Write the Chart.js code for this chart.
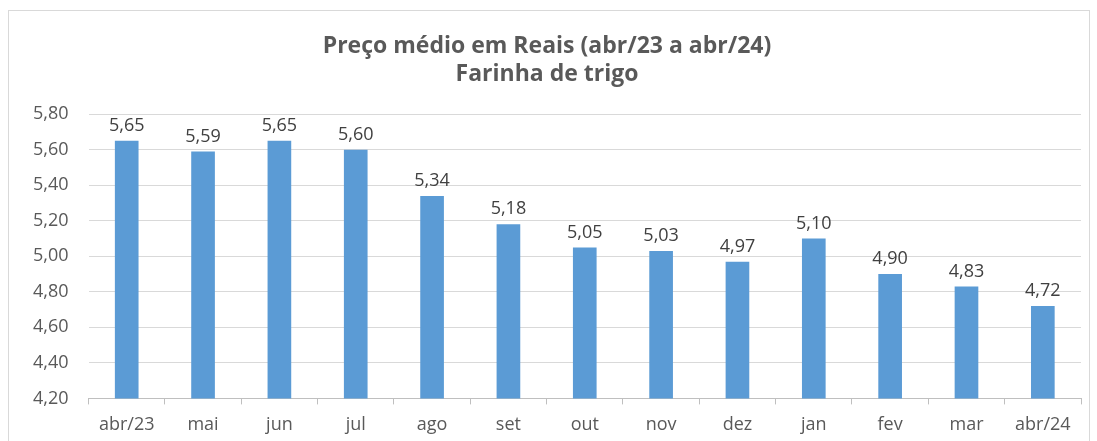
<!DOCTYPE html>
<html>
<head>
<meta charset="utf-8">
<script src="https://cdn.jsdelivr.net/npm/chart.js@4.4.1/dist/chart.umd.min.js"></script>
<style>
  body { margin: 0; background: #fff; }
  #box {
    position: absolute; left: 8px; top: 10px;
    width: 1082px; height: 440px;
    border: 1px solid #d9d9d9; box-sizing: border-box;
  }
  #chart { display: block; }
</style>
</head>
<body>
<div id="box"><canvas id="chart" width="1080" height="438"></canvas></div>
<script>
const categories = ['abr/23', 'mai', 'jun', 'jul', 'ago', 'set', 'out', 'nov', 'dez', 'jan', 'fev', 'mar', 'abr/24'];
const prices = [5.65, 5.59, 5.65, 5.60, 5.34, 5.18, 5.05, 5.03, 4.97, 5.10, 4.90, 4.83, 4.72];
const titleLines = ['Preço médio em Reais (abr/23 a abr/24)', 'Farinha de trigo'];
const yMin = 4.20, yMax = 5.80, yStep = 0.20;

const FONT = "'Open Sans', 'DejaVu Sans', sans-serif";

function fmt(v) {
  return v.toFixed(2).replace('.', ',');
}

// value labels over the bars
const barLabels = {
  id: 'barLabels',
  afterDatasetsDraw(chart) {
    const ctx = chart.ctx;
    const meta = chart.getDatasetMeta(0);
    ctx.save();
    ctx.font = '18px ' + FONT;
    ctx.fillStyle = '#404040';
    ctx.textAlign = 'center';
    ctx.textBaseline = 'bottom';
    meta.data.forEach((bar, i) => {
      ctx.fillText(fmt(prices[i]), bar.x, bar.y - 6);
    });
    ctx.restore();
  }
};

new Chart(document.getElementById('chart'), {
  type: 'bar',
  data: {
    labels: categories,
    datasets: [{
      data: prices,
      backgroundColor: '#5b9bd5',
      borderWidth: 0,
      barPercentage: 0.31,
      categoryPercentage: 1.0
    }]
  },
  options: {
    responsive: false,
    animation: false,
    layout: { padding: { left: 4, right: 8, top: 6, bottom: 3 } },
    plugins: {
      legend: { display: false },
      tooltip: { enabled: false },
      title: {
        display: true,
        text: titleLines,
        color: '#595959',
        font: { family: FONT, size: 23, weight: 'bold', lineHeight: 1.2 },
        padding: { top: 16, bottom: 26 }
      }
    },
    scales: {
      y: {
        min: yMin,
        max: yMax,
        border: { display: false },
        grid: { color: '#d9d9d9', drawTicks: false },
        ticks: {
          stepSize: yStep,
          padding: 20,
          color: '#595959',
          font: { family: FONT, size: 18 },
          callback: v => fmt(v)
        }
      },
      x: {
        offset: true,
        border: { display: true, color: '#bfbfbf' },
        grid: { offset: true, drawOnChartArea: false, color: '#bfbfbf', tickLength: 6 },
        ticks: {
          padding: 10,
          color: '#595959',
          font: { family: FONT, size: 18 },
          maxRotation: 0
        }
      }
    }
  },
  plugins: [barLabels]
});
</script>
</body>
</html>
